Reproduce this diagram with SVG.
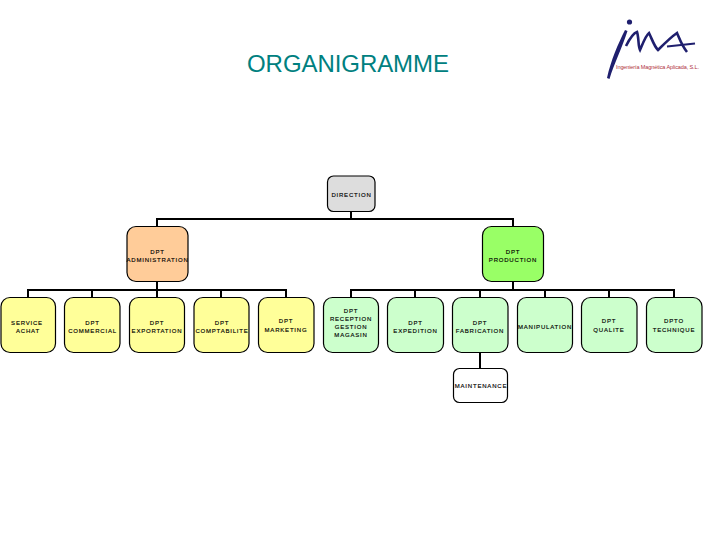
<svg xmlns="http://www.w3.org/2000/svg" width="720" height="540" viewBox="0 0 720 540">
<style>
text{font-family:"Liberation Sans",Arial,sans-serif}
.t{font-size:6px;letter-spacing:.8px;text-anchor:middle;fill:#000;stroke:#000;stroke-width:.15}
.b{stroke:#000;stroke-width:1.2}
.y{fill:#ffff99}.g{fill:#ccffcc}
.c{fill:none;stroke:#000;stroke-width:2}
</style>
<rect width="720" height="540" fill="#fff"/>
<text x="348" y="72" font-size="24" fill="#008080" text-anchor="middle" textLength="202">ORGANIGRAMME</text>
<g id="logo">
<path d="M607 78C611 60 618 44 625 30L627.500 31C622 48 614 64 609.500 79Z" fill="#1f1f6e"/>
<circle cx="629.500" cy="22" r="2.600" fill="#1f1f6e"/>
<path d="M626 46C630 38 634 33 637 32C639 38 638 46 640 50C643 43 646 35 649 33C652 39 654 46 658 50C664 44 671 37 677 33C680 40 682 46 687 52" fill="none" stroke="#1f1f6e" stroke-width="2.600"/>
<path d="M667 46.500L695 43.500" fill="none" stroke="#1f1f6e" stroke-width="1.800"/>
<text x="616" y="68.500" font-size="5.500" fill="#b03040" textLength="83">Ingeniería Magnética Aplicada, S.L.</text>
</g>
<g id="connectors">
<path class="c" d="M351 212V219M157 226V219H513V226M157 282V290M28 298V290H286V298M92 290V298M157 290V298M221 290V298M513 282V290M351 298V290H674V298M415 290V298M480 290V298M545 290V298M609 290V298M480 352V368"/>
</g>
<g id="n-direction"><rect class="b" x="327.500" y="176" width="47.500" height="35.500" rx="6" fill="#dddddd"/><text class="t" x="351.500" y="197">DIRECTION</text></g>
<g id="n-admin"><rect class="b" x="127" y="226.500" width="61" height="55" rx="9" fill="#ffcc99"/><text class="t" x="157.500" y="253.500">DPT</text><text class="t" x="157.500" y="262">ADMINISTRATION</text></g>
<g id="n-production"><rect class="b" x="482.500" y="226.500" width="61" height="55" rx="9" fill="#99ff66"/><text class="t" x="513" y="253.500">DPT</text><text class="t" x="513" y="261.500">PRODUCTION</text></g>
<g id="n-achat"><rect class="b y" x="1" y="297.500" width="54.500" height="55" rx="9"/><text class="t" x="27" y="325">SERVICE</text><text class="t" x="28" y="333">ACHAT</text></g>
<g id="n-commercial"><rect class="b y" x="64.500" y="297.500" width="55.500" height="55" rx="9"/><text class="t" x="92.500" y="325">DPT</text><text class="t" x="92.500" y="333">COMMERCIAL</text></g>
<g id="n-exportation"><rect class="b y" x="129.500" y="297.500" width="55" height="55" rx="9"/><text class="t" x="157" y="325">DPT</text><text class="t" x="157" y="333">EXPORTATION</text></g>
<g id="n-comptabilite"><rect class="b y" x="194" y="297.500" width="55" height="55" rx="9"/><text class="t" x="222" y="325">DPT</text><text class="t" x="222" y="333">COMPTABILITE</text></g>
<g id="n-marketing"><rect class="b y" x="258.500" y="297.500" width="55.500" height="55" rx="9"/><text class="t" x="286" y="323">DPT</text><text class="t" x="286" y="331.500">MARKETING</text></g>
<g id="n-reception"><rect class="b g" x="323.500" y="297.500" width="55" height="55" rx="9"/><text class="t" x="351" y="312.500">DPT</text><text class="t" x="351" y="320.500">RECEPTION</text><text class="t" x="351" y="328.500">GESTION</text><text class="t" x="351" y="337">MAGASIN</text></g>
<g id="n-expedition"><rect class="b g" x="387.500" y="297.500" width="56" height="55" rx="9"/><text class="t" x="415.500" y="325">DPT</text><text class="t" x="415.500" y="333">EXPEDITION</text></g>
<g id="n-fabrication"><rect class="b g" x="452.500" y="297.500" width="55.500" height="55" rx="9"/><text class="t" x="480" y="325">DPT</text><text class="t" x="480" y="333">FABRICATION</text></g>
<g id="n-manipulation"><rect class="b g" x="517.500" y="297.500" width="55" height="55" rx="9"/><text class="t" x="545" y="329">MANIPULATION</text></g>
<g id="n-qualite"><rect class="b g" x="581.500" y="297.500" width="55.500" height="55" rx="9"/><text class="t" x="609" y="323">DPT</text><text class="t" x="609" y="332">QUALITE</text></g>
<g id="n-technique"><rect class="b g" x="646.500" y="297.500" width="55.500" height="55" rx="9"/><text class="t" x="674" y="323">DPTO</text><text class="t" x="674" y="332">TECHNIQUE</text></g>
<g id="n-maintenance"><rect class="b" x="453.500" y="368.500" width="54" height="34" rx="6" fill="#fff"/><text class="t" x="481" y="388">MAINTENANCE</text></g>
</svg>
